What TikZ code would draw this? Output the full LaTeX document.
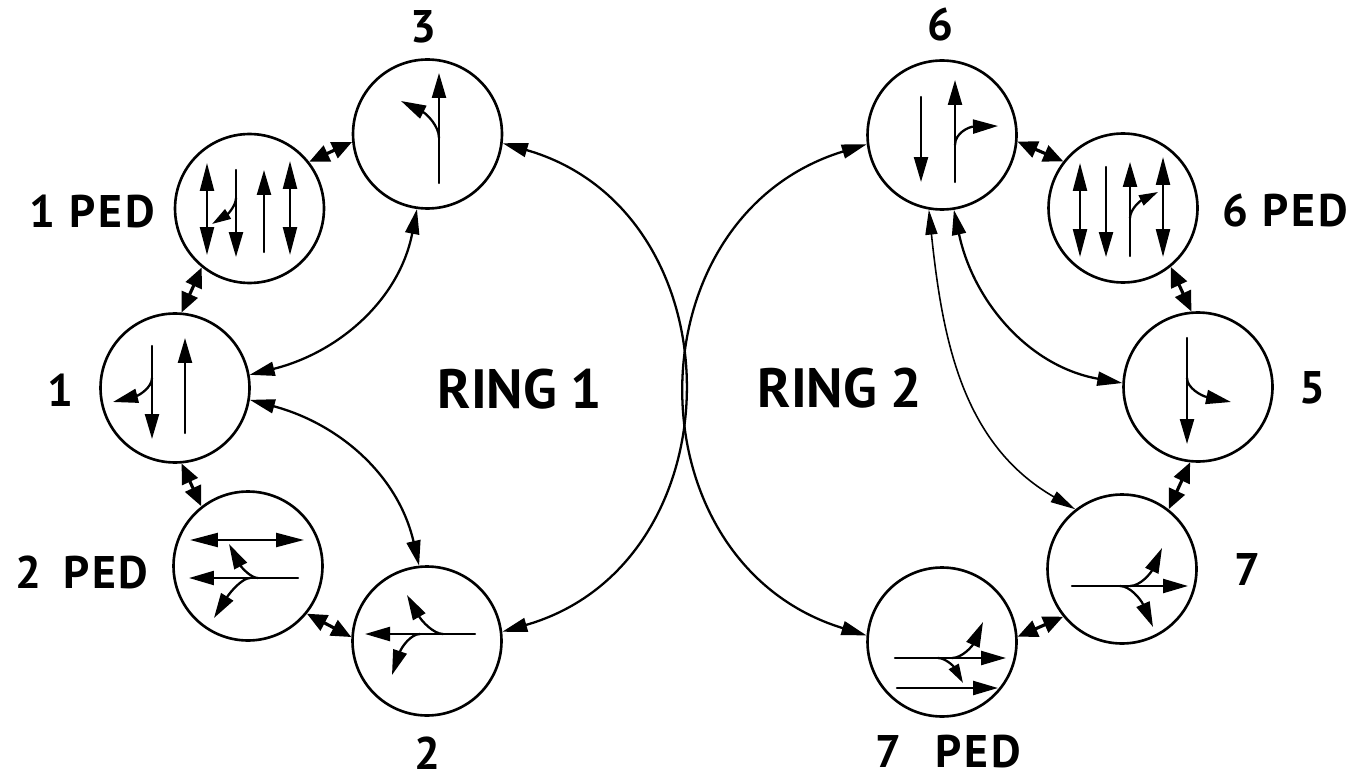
\documentclass[tikz,border=0pt]{standalone}
\usepackage{fontspec}
\setmainfont{PT Sans}
\usetikzlibrary{arrows.meta, calc}
\newcommand{\relation}[4]
{
	\draw[shortlink] (#1.#2) -- (#3.#4)
}
\newcommand{\lane}[2]
{
	\draw[lane] #1 -- #2
}
\newcommand{\twoway}[2]
{
	\draw[twolane] #1 -- #2
}
\newcommand{\turn}[4][lane]
{
	\draw[#1] #2 .. controls ($#2!0.67!#3$) and ($#4!0.67!#3$) .. #4
}

\begin{document}
\begin{tikzpicture}[x=0.02cm, y=-0.02cm,
	phase/.style={shape=circle, draw=black, line width=1.5pt, minimum size=2.98cm, inner sep=0pt},
	tag/.style={inner sep=0pt, font=\fontsize{26}{26}\selectfont\bfseries\addfontfeature{LetterSpace=6}},
	ringtag/.style={inner sep=0pt, font=\fontsize{31.5}{32}\selectfont\bfseries},
	lane/.style={line width=1.3pt, line cap=round, -{Triangle[length=0.5cm, width=0.28cm]}},
	smalllane/.style={line width=1.3pt, line cap=round, -{Triangle[length=0.38cm, width=0.22cm]}},
	twolane/.style={line width=1.3pt, {Triangle[length=0.56cm, width=0.28cm]}-{Triangle[length=0.56cm, width=0.28cm]}},
	shortlink/.style={line width=1.8pt, {Triangle[length=0.4cm, width=0.34cm]}-{Triangle[length=0.4cm, width=0.34cm]}},
	longlink/.style={line width=1.3pt, {Triangle[length=0.5cm, width=0.28cm]}-{Triangle[length=0.5cm, width=0.28cm]}},
	thinlink/.style={line width=0.9pt, {Triangle[length=0.5cm, width=0.24cm]}-{Triangle[length=0.5cm, width=0.24cm]}}]
	\useasboundingbox (0, 0) rectangle (1354, 780);

	\node[phase] at (427.5, 134) (P3){};
	\node[phase] at (249.5, 208.5) (P1P){};
	\node[phase] at (175, 388) (P1){};
	\node[phase] at (248, 566) (P2P){};
	\node[phase] at (427, 641) (P2){};
	\node[phase] at (942, 135) (P6){};
	\node[phase] at (1123, 208) (P6P){};
	\node[phase] at (1198, 387) (P5){};
	\node[phase] at (1122, 569) (P7){};
	\node[phase] at (942, 642) (P7P){};

	\node[tag] at (423, 27) (T3){3};
	\node[tag] at (92, 211) (T1P){1 PED};
	\node[tag] at (60, 390) (T1){1};
	\node[tag] at (82, 572) (T2P){2 \,PED};
	\node[tag] at (427, 753) (T2){2};
	\node[tag] at (940, 25) (T6){6};
	\node[tag] at (1285, 211) (T6P){6 PED};
	\node[tag] at (1312, 388) (T5){5};
	\node[tag] at (1247, 570) (T7){7};
	\node[tag] at (948, 752) (T7P){7 \;\,PED};
	\node[ringtag] at (520, 389) (R1){RING 1};
	\node[ringtag] at (840, 388) (R2){RING 2};

	\relation{P1P}{38.5}{P3}{186};
	\relation{P1}{85}{P1P}{231};
	\relation{P1}{-85}{P2P}{128};
	\relation{P2P}{-39}{P2}{177};
	\relation{P6}{-5}{P6P}{142};
	\relation{P6P}{-51}{P5}{95};
	\relation{P5}{264}{P7}{52};
	\relation{P7}{219}{P7P}{4};

	\draw[longlink] (P3.-7) to[out=-16, in=16, looseness=1.3] (P2.7);
	\draw[longlink] (P6.187) to[out=197, in=163, looseness=1.3] (P7P.175);
	\draw[longlink] (P3.262.6) to[out=259, in=14] (P1.10);
	\draw[longlink] (P1.-9) to[out=-15, in=103] (P2.96);
	\draw[longlink] (P6.-81.5) to[out=-78, in=170] (P5.177);
	\draw[thinlink] (P6.260) to[out=276, in=150] (P7.128);

	\lane{(439, 183)}{(439, 73)};
	\turn{(439, 138)}{(439, 120)}{(401, 101)};

	\twoway{(207, 163)}{(207, 255)};
	\lane{(236, 170)}{(236, 257)};
	\turn[smalllane]{(236, 198)}{(236, 209)}{(212, 224)};
	\lane{(264, 252)}{(264, 170)};
	\twoway{(290, 161)}{(290, 255)};

	\lane{(152, 346)}{(152, 439)};
	\turn{(152, 378)}{(152, 392)}{(113, 402)};
	\lane{(185, 433)}{(185, 338)};

	\twoway{(190, 540)}{(304, 540)};
	\lane{(298, 578)}{(189, 578)};
	\turn{(258, 578)}{(247, 578)}{(229, 544)};
	\turn{(250, 578)}{(239, 578)}{(214, 618)};

	\lane{(475, 634)}{(365, 634)};
	\turn{(443, 634)}{(429, 634)}{(407, 595)};
	\turn{(420, 634)}{(406, 634)}{(392, 675)};

	\lane{(921, 97)}{(921, 182)};
	\lane{(955, 182)}{(955, 80)};
	\turn{(955, 145)}{(955, 127)}{(998, 126)};

	\twoway{(1080, 163)}{(1080, 257)};
	\lane{(1106, 167)}{(1106, 257)};
	\lane{(1130, 256)}{(1130, 162)};
	\turn[smalllane]{(1130, 218)}{(1130, 206)}{(1158, 192)};
	\twoway{(1163, 157)}{(1163, 257)};

	\lane{(1187, 338)}{(1187, 444)};
	\turn{(1187, 378)}{(1187, 393)}{(1231, 402)};

	\lane{(1072, 586)}{(1188, 586)};
	\turn{(1130, 586)}{(1145, 586)}{(1162, 548)};
	\turn{(1120, 586)}{(1135, 586)}{(1153, 627)};

	\lane{(895, 658)}{(1006, 658)};
	\turn{(952, 658)}{(967, 658)}{(983, 622)};
	\turn[smalllane]{(938, 658)}{(949, 658)}{(963, 683)};
	\lane{(897, 688)}{(998, 688)};
\end{tikzpicture}
\end{document}
